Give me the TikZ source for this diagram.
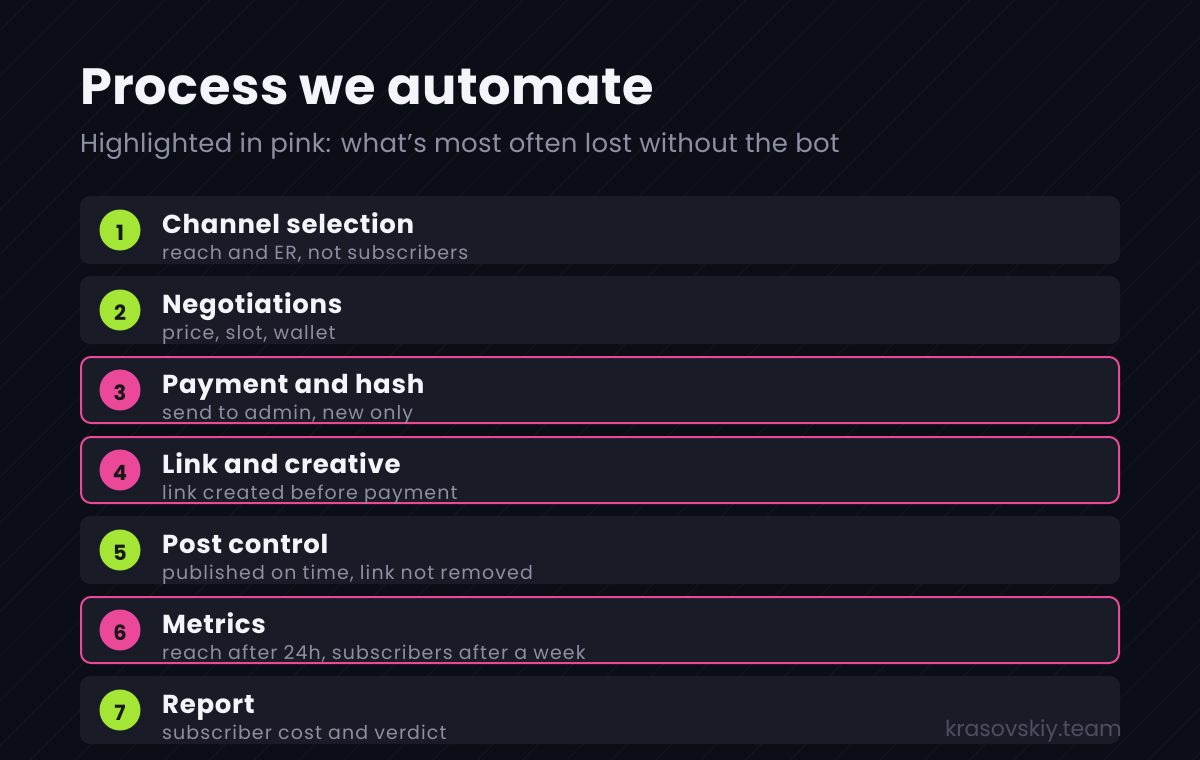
\documentclass[tikz,border=0pt]{standalone}
\usepackage{fontspec}
\setmainfont{Poppins}
\usepackage{tikz}
\usetikzlibrary{positioning,calc}
\definecolor{pagebg}{HTML}{0B0E16}
\definecolor{stripecol}{HTML}{12151E}
\definecolor{rowfill}{HTML}{191B26}
\definecolor{hotpink}{HTML}{EC4899}
\definecolor{limegreen}{HTML}{A3E635}
\definecolor{titlewhite}{HTML}{F4F5FA}
\definecolor{subgray}{HTML}{8B90A3}
\definecolor{markgray}{HTML}{4B4F61}

\begin{document}
\begin{tikzpicture}[
    x=1pt, y=-1pt,
    stripe/.style={draw=stripecol, line width=1pt},
    rowbox/.style={rectangle, rounded corners=10pt, fill=rowfill, minimum width=1040pt, minimum height=68pt, inner sep=0pt},
    hotrow/.style={rowbox, draw=hotpink, line width=2pt, minimum width=1038pt, minimum height=66pt},
    dot/.style={circle, minimum size=41pt, inner sep=0pt},
    gdot/.style={dot, fill=limegreen},
    pdot/.style={dot, fill=hotpink},
    num/.style={inner sep=0pt, font=\fontsize{21}{21}\selectfont\bfseries, text=black!90},
    steptitle/.style={anchor=base west, inner sep=0pt, font=\fontsize{26}{26}\selectfont\bfseries\addfontfeatures{LetterSpace=2.7}, text=titlewhite},
    stepsub/.style={anchor=base west, inner sep=0pt, font=\fontsize{19}{19}\selectfont\addfontfeatures{LetterSpace=5.8}, text=subgray}
  ]
    \useasboundingbox (0,0) rectangle (1200,760);
    \fill[pagebg] (0,0) rectangle (1200,760);
    \begin{scope}
      \clip (0,0) rectangle (1200,760);
      \foreach \k in {0,...,43}
        \draw[stripe] ({30.7+44.7*\k},0) -- ({30.7+44.7*\k-760},760);
    \end{scope}

    % heading
    \node[anchor=base west, inner sep=0pt, font=\fontsize{51}{51}\selectfont\bfseries\addfontfeatures{LetterSpace=1}, text=titlewhite] (title) at (80,104) {Process we automate};
    \node[anchor=base west, inner sep=0pt, font=\fontsize{26}{26}\selectfont\addfontfeatures{LetterSpace=1.3}, text=subgray] (subtitle) at (80,152) {Highlighted in pink: what’s most often lost without the bot};

    % rows
    \node[rowbox] (r1) at (600,230) {};
    \node[rowbox] (r2) at (600,310) {};
    \node[hotrow] (r3) at (600,390) {};
    \node[hotrow] (r4) at (600,470) {};
    \node[rowbox] (r5) at (600,550) {};
    \node[hotrow] (r6) at (600,630) {};
    \node[rowbox] (r7) at (600,710) {};

    % badges
    \node[gdot] (d1) at (120,230) {};
    \node[gdot] (d2) at (120,310) {};
    \node[pdot] (d3) at (120,390) {};
    \node[pdot] (d4) at (120,470) {};
    \node[gdot] (d5) at (120,550) {};
    \node[pdot] (d6) at (120,630) {};
    \node[gdot] (d7) at (120,710) {};
    \node[num] at ([yshift=-3pt]d1.center) {1};
    \node[num] at ([yshift=-3pt]d2.center) {2};
    \node[num] at ([yshift=-3pt]d3.center) {3};
    \node[num] at ([yshift=-3pt]d4.center) {4};
    \node[num] at ([yshift=-3pt]d5.center) {5};
    \node[num] at ([yshift=-3pt]d6.center) {6};
    \node[num] at ([yshift=-3pt]d7.center) {7};

    % step texts
    \node[steptitle] (t1) at (162,233) {Channel selection};
    \node[stepsub] (s1) at (162,259) {reach and ER, not subscribers};
    \node[steptitle] (t2) at (162,313) {Negotiations};
    \node[stepsub] (s2) at (162,339) {price, slot, wallet};
    \node[steptitle] (t3) at (162,393) {Payment and hash};
    \node[stepsub] (s3) at (162,419) {send to admin, new only};
    \node[steptitle] (t4) at (162,473) {Link and creative};
    \node[stepsub] (s4) at (162,499) {link created before payment};
    \node[steptitle] (t5) at (162,553) {Post control};
    \node[stepsub] (s5) at (162,579) {published on time, link not removed};
    \node[steptitle] (t6) at (162,633) {Metrics};
    \node[stepsub] (s6) at (162,659) {reach after 24h, subscribers after a week};
    \node[steptitle] (t7) at (162,713) {Report};
    \node[stepsub] (s7) at (162,739) {subscriber cost and verdict};

    \node[anchor=base east, inner sep=0pt, font=\fontsize{22}{22}\selectfont, text=markgray] (mark) at (1122,736) {krasovskiy.team};
  \end{tikzpicture}
\end{document}
